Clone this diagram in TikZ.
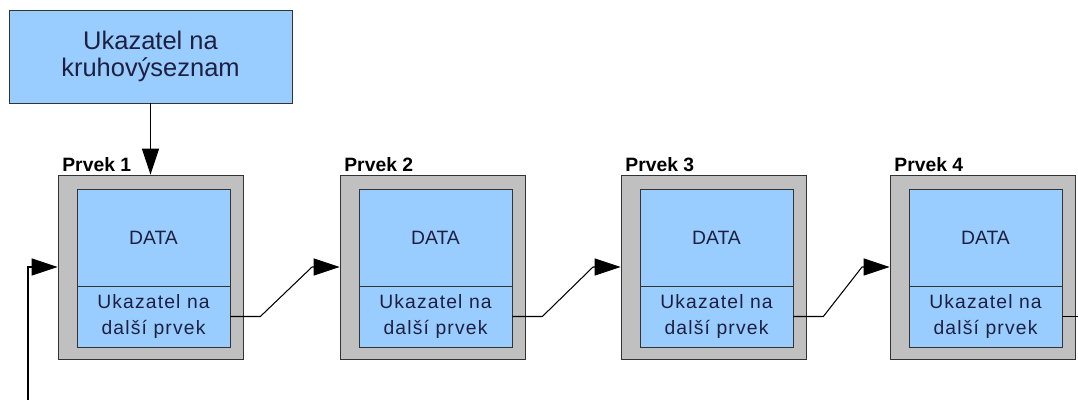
\documentclass[tikz,border=0pt]{standalone}
\usepackage{fontspec}
\setmainfont{Liberation Sans}
\newfontfamily\rozpal[LetterSpace=6]{Liberation Sans}
\usetikzlibrary{arrows.meta}
\definecolor{svetla}{HTML}{99CCFF}
\definecolor{seda}{HTML}{C0C0C0}
\definecolor{okraj}{HTML}{333333}
\definecolor{pismo}{HTML}{1E2040}

\begin{document}
\begin{tikzpicture}[x=0.02cm,y=-0.02cm,
    obal/.style={draw=okraj,fill=seda,minimum width=3.7cm,minimum height=3.68cm,inner sep=0pt},
    data/.style={draw=okraj,fill=svetla,text=pismo,minimum width=3.06cm,minimum height=1.94cm,inner sep=0pt,font=\fontsize{11}{13}\selectfont},
    ukaz/.style={draw=okraj,fill=svetla,text=pismo,minimum width=3.06cm,minimum height=1.22cm,inner sep=0pt,align=center,font=\rozpal\fontsize{11}{15}\selectfont},
    popis/.style={anchor=base west,inner sep=0pt,font=\fontsize{11}{13}\selectfont\bfseries},
    sipka/.style={-{Triangle[length=0.52cm,width=0.34cm]},line width=0.6pt}]
    \useasboundingbox (0,0) rectangle (1078,403);

    \node (U) at (150.5,56.5) [draw=okraj,fill=svetla,text=pismo,minimum width=5.66cm,minimum height=1.86cm,align=center,font=\fontsize{14.5}{15.3}\selectfont] {Ukazatel na\\kruhovýseznam};

    \node (P1) at (150.5,267) [obal] {}; \node (D1) at (153.5,237.5) [data] {DATA}; \node (N1) at (153.5,316.5) [ukaz] {Ukazatel na\\další prvek}; \node at (62,171) [popis] {Prvek 1};
    \node (P2) at (432.5,267) [obal] {}; \node (D2) at (435.5,237.5) [data] {DATA}; \node (N2) at (435.5,316.5) [ukaz] {Ukazatel na\\další prvek}; \node at (344,171) [popis] {Prvek 2};
    \node (P3) at (713.5,267) [obal] {}; \node (D3) at (716.5,237.5) [data] {DATA}; \node (N3) at (716.5,316.5) [ukaz] {Ukazatel na\\další prvek}; \node at (625,171) [popis] {Prvek 3};
    \node (P4) at (982.5,267) [obal] {}; \node (D4) at (985.5,237.5) [data] {DATA}; \node (N4) at (985.5,316.5) [ukaz] {Ukazatel na\\další prvek}; \node at (894,171) [popis] {Prvek 4};

    % ukazatel na prvni prvek
    \draw[sipka] (U.south) -- (P1.north);

    % odkazy mezi prvky
    \coordinate (z12) at (312,267); \draw[sipka] (N1.east) -- ++(30,0) -- (z12) -- (P2.west);
    \coordinate (z23) at (593,267); \draw[sipka] (N2.east) -- ++(30,0) -- (z23) -- (P3.west);
    \coordinate (z34) at (862,267); \draw[sipka] (N3.east) -- ++(30,0) -- (z34) -- (P4.west);
    \coordinate (konec) at (1078,316.5); \draw[line width=0.6pt] (N4.east) -- (konec);

    % navrat na zacatek seznamu
    \coordinate (zpet) at (28,400); \draw[sipka] (zpet) |- (P1.west);

\end{tikzpicture}
\end{document}
